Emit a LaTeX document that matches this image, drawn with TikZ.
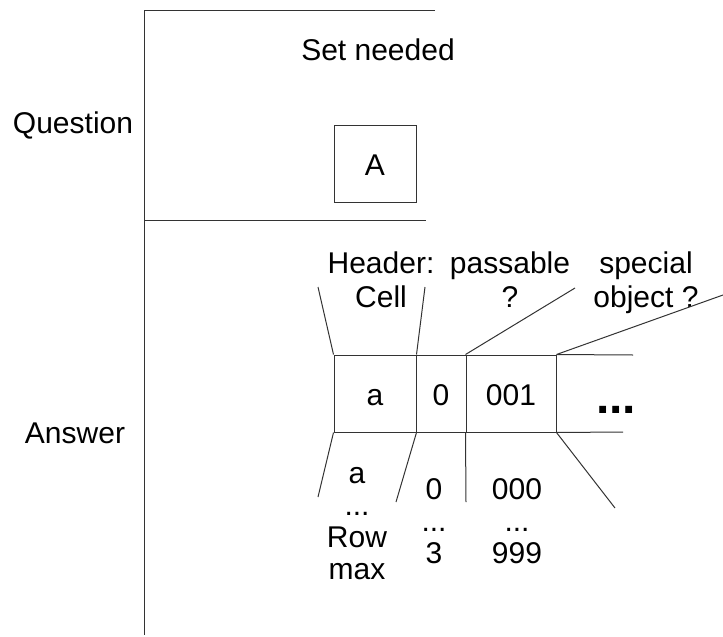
\documentclass[tikz,border=0pt]{standalone}
\usepackage{fontspec}
\setmainfont{Liberation Sans}
\begin{document}
\begin{tikzpicture}[x=1pt,y=-1pt]
\tikzset{
  ln/.style={draw=black!80, line width=1pt},
  txt/.style={font=\fontsize{30}{32}\selectfont, inner sep=0pt, align=center},
  hdr/.style={font=\fontsize{30}{34}\selectfont, inner sep=0pt, align=center},
  cellbox/.style={draw=black!80, line width=1pt, minimum height=77pt, inner sep=0pt,
    text height=23pt, text depth=0pt, font=\fontsize{30}{32}\selectfont}
}
\useasboundingbox (0,0) rectangle (723,637);
% frame
\coordinate (t0) at (144,10);
\coordinate (t1) at (435,10);
\coordinate (vb) at (144,635);
\coordinate (m0) at (144,220);
\coordinate (m1) at (426,220);
\draw[ln] (t1) -- (t0) -- (vb);
\draw[ln] (m0) -- (m1);
% question part
\node[txt, anchor=base] (setn) at (378,60) {Set needed};
\node[cellbox, minimum width=82pt] (boxA) at (375,163.5) {A};
\node[txt, anchor=base] (q) at (73,133) {Question};
\node[txt, anchor=base] (ans) at (75,443) {Answer};
% table
\node[cellbox, minimum width=82pt] (ca) at (375,393.5) {a};
\node[cellbox, minimum width=50pt] (cb) at (441,393.5) {0};
\node[cellbox, minimum width=90pt] (cc) at (511,393.5) {001};
\coordinate (rt) at (633,355);
\coordinate (rb) at (623,432);
\draw[ln] (cc.north east) -- (rt);
\draw[ln] (cc.south east) -- (rb);
\node[inner sep=0pt, anchor=base, font=\fontsize{48}{48}\selectfont\bfseries] (dots) at (616,413) {...};
% header labels
\node[hdr, anchor=base] (hcell) at (381,307) {Header:\\Cell};
\node[hdr, anchor=base] (hpass) at (510,307) {passable\\?};
\node[hdr, anchor=base] (hspec) at (646,307) {special\\object ?};
% value labels
\node[txt, anchor=base] (va) at (357,579) {a\\...\\Row\\max};
\node[txt, anchor=base] (vb2) at (434,563) {0\\...\\3};
\node[txt, anchor=base] (vc) at (517,563) {000\\...\\999};
% slanted lines
\coordinate (u1) at (318,287);
\coordinate (u2) at (425,287);
\coordinate (u3) at (575,288);
\coordinate (u4) at (723,295);
\coordinate (d1) at (318,497);
\coordinate (d2) at (396,502);
\coordinate (d3) at (466,502);
\coordinate (d4) at (615,508);
\draw[ln] (ca.north west) -- (u1);
\draw[ln] (ca.north east) -- (u2);
\draw[ln] (cc.north west) -- (u3);
\draw[ln] (cc.north east) -- (u4);
\draw[ln] (ca.south west) -- (d1);
\draw[ln] (ca.south east) -- (d2);
\draw[ln] (cc.south west) -- (d3);
\draw[ln] (cc.south east) -- (d4);
\end{tikzpicture}
\end{document}
